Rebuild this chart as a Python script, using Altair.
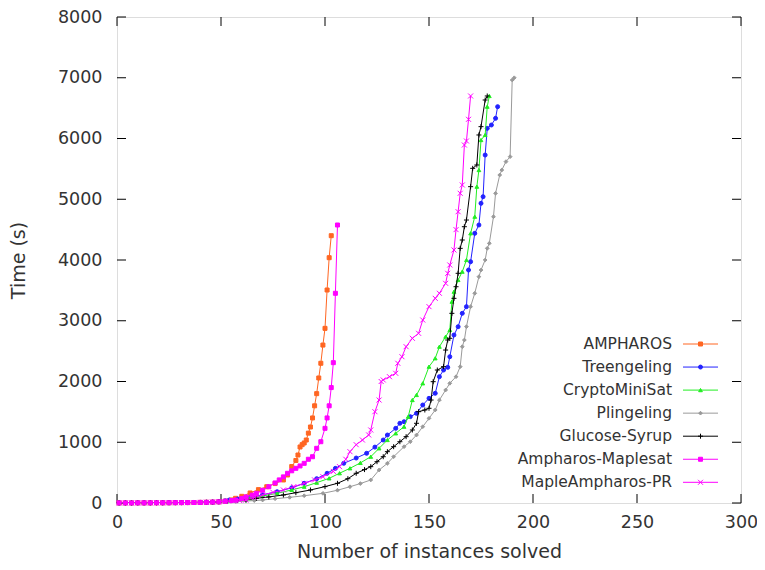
import altair as alt
import pandas as pd

# ---------------- data ----------------
series_names = ["AMPHAROS", "Treengeling", "CryptoMiniSat", "Plingeling",
                "Glucose-Syrup", "Ampharos-Maplesat", "MapleAmpharos-PR"]

# instances near the origin: all solved in (almost) no time
low_x = [1, 4, 7, 10, 13, 16, 19, 22, 25, 28, 31, 34, 37, 40, 43, 46, 49]
low_y = [1, 1, 1, 2, 2, 2, 3, 3, 4, 5, 6, 7, 8, 10, 12, 15, 19]

amph_x = low_x + [52, 55, 57, 60, 64, 68, 72, 76, 80, 82, 84, 86, 87, 88, 89, 90, 91, 92,
                  93, 94, 95, 96, 97, 98, 99, 100, 101, 102, 103]
amph_y = low_y + [30, 50, 77, 110, 165, 220, 268, 320, 379, 461, 600, 700, 790, 922, 960,
                  988, 1037, 1150, 1251, 1400, 1600, 1800, 2058, 2300, 2600, 2875, 3506,
                  4038, 4400]

tree_x = low_x + [52, 54, 58, 64, 70, 77, 84, 90, 96, 101, 105, 109, 115, 120, 124, 128,
                  130, 134, 136, 138, 141, 144, 147, 150, 153, 155, 157, 159, 160, 162,
                  164, 166, 168, 169, 170, 172, 174, 175, 176, 177, 178, 180, 182, 183]
tree_y = low_y + [35, 49, 65, 93, 135, 186, 250, 324, 400, 489, 570, 653, 740, 818, 920,
                  1037, 1119, 1229, 1312, 1338, 1421, 1476, 1613, 1723, 1806, 2079, 2189,
                  2233, 2408, 2765, 2902, 3122, 3232, 3835, 3972, 4439, 4576, 4933, 5042,
                  5728, 6167, 6222, 6332, 6524]

cms_x = low_x + [53, 57, 60, 64, 70, 77, 84, 90, 96, 102, 107, 112, 117, 122, 126, 130,
                 134, 138, 140, 142, 144, 147, 150, 153, 155, 158, 160, 161, 162, 164,
                 166, 168, 170, 172, 173, 174, 175, 177, 178, 179]
cms_y = low_y + [30, 45, 60, 77, 115, 159, 215, 268, 335, 406, 490, 571, 660, 762, 900,
                 1037, 1147, 1256, 1421, 1695, 1778, 1970, 2244, 2382, 2573, 2738, 2848,
                 3314, 3478, 3671, 3808, 4000, 4439, 4713, 5207, 5481, 5975, 6058, 6524,
                 6700]

pling_x = low_x + [53, 57, 62, 66, 70, 76, 83, 90, 99, 106, 112, 117, 122, 126, 130, 133,
                   138, 141, 144, 147, 150, 153, 155, 158, 160, 163, 165, 166, 167, 168,
                   170, 172, 174, 175, 177, 178, 179, 181, 182, 184, 185, 187, 189, 190,
                   191]
pling_y = low_y + [22, 26, 32, 40, 49, 70, 93, 120, 159, 210, 268, 320, 379, 543, 653, 762,
                   927, 1009, 1119, 1256, 1394, 1531, 1695, 1860, 1970, 2079, 2244, 2573,
                   2683, 2902, 3232, 3452, 3725, 3835, 4000, 4192, 4275, 4713, 5098, 5399,
                   5481, 5619, 5701, 6963, 7000]

gluc_x = low_x + [53, 58, 62, 67, 73, 80, 86, 93, 100, 106, 111, 115, 119, 122, 125, 128,
                  130, 133, 136, 139, 142, 144, 145, 148, 150, 151, 152, 154, 157, 158,
                  159, 160, 161, 162, 163, 164, 165, 166, 167, 168, 170, 171, 173, 174,
                  175, 177, 178]
gluc_y = low_y + [28, 40, 55, 77, 100, 132, 170, 214, 270, 324, 400, 489, 550, 598, 680,
                  762, 845, 927, 1009, 1092, 1202, 1312, 1503, 1531, 1559, 1695, 1997,
                  2189, 2244, 2518, 2683, 2711, 3122, 3369, 3560, 3781, 4192, 4329, 4548,
                  4658, 5207, 5509, 5564, 6058, 6195, 6634, 6700]

amap_x = low_x + [52, 55, 57, 60, 62, 65, 67, 70, 73, 76, 78, 80, 82, 84, 86, 88, 90, 92,
                  94, 96, 98, 100, 101, 102, 103, 104, 105, 106]
amap_y = low_y + [30, 40, 49, 75, 100, 130, 159, 210, 268, 330, 380, 430, 489, 530, 571,
                  610, 653, 720, 762, 900, 1009, 1229, 1400, 1600, 1900, 2310, 3452, 4576]

mapr_x = low_x + [52, 56, 59, 62, 66, 70, 75, 80, 85, 90, 95, 99, 104, 107, 110, 112, 115,
                  118, 121, 122, 124, 126, 127, 128, 131, 134, 135, 137, 139, 142, 145,
                  147, 150, 153, 155, 158, 159, 160, 162, 163, 164, 165, 166, 167, 168,
                  169, 170]
mapr_y = low_y + [25, 33, 40, 49, 90, 132, 175, 214, 270, 324, 380, 433, 520, 598, 720,
                  845, 960, 1037, 1120, 1202, 1503, 1695, 2000, 2025, 2079, 2135, 2300,
                  2408, 2573, 2711, 2793, 3012, 3232, 3369, 3452, 3616, 3781, 3918, 4165,
                  4500, 4795, 5098, 5235, 5893, 5959, 6316, 6700]

series_x = [amph_x, tree_x, cms_x, pling_x, gluc_x, amap_x, mapr_x]
series_y = [amph_y, tree_y, cms_y, pling_y, gluc_y, amap_y, mapr_y]

colors = ["#ff6622", "#2222ff", "#22ee22", "#9a9a9a", "#000000", "#ff00ff", "#ff00ff"]
shapes = ["square", "circle", "triangle-up", "diamond",
          "M-1,0L1,0M0,-1L0,1", "square", "M-1,-1L1,1M-1,1L1,-1"]
sizes = [16, 16, 14, 14, 25, 16, 25]

x_ticks = [0, 50, 100, 150, 200, 250, 300]
y_ticks = [0, 1000, 2000, 3000, 4000, 5000, 6000, 7000, 8000]

# ---------------- chart ----------------
FONT = "DejaVu Sans"
TXT = "#333333"
W, H = 624, 486

xscale = alt.Scale(domain=[0, 300], nice=False, zero=False)
yscale = alt.Scale(domain=[0, 8000], nice=False)

xaxis = alt.Axis(values=x_ticks, title="Number of instances solved", grid=False,
                 ticks=False, tickSize=0, domain=False, labelFontSize=17.5,
                 labelFont=FONT, labelColor=TXT, labelPadding=10, format="d",
                 titleFont=FONT, titleFontSize=19, titleFontWeight="normal",
                 titleColor=TXT, titlePadding=12, labelFlush=False)
yaxis = alt.Axis(values=y_ticks, title="Time (s)", grid=False, ticks=False,
                 tickSize=0, domain=False, labelFontSize=17.5, labelFont=FONT,
                 labelColor=TXT, labelPadding=15, format="d", titleFont=FONT,
                 titleFontSize=19, titleFontWeight="normal", titleColor=TXT,
                 titlePadding=29, labelFlush=False)

layers = []

# inside tick marks (bottom/top/left/right)
xt = pd.DataFrame({"x": x_ticks})
yt = pd.DataFrame({"y": y_ticks})
TL = 9
layers.append(alt.Chart(xt).mark_rule(color="#000", strokeWidth=1).encode(
    x=alt.X("x:Q", scale=xscale, axis=xaxis), y=alt.value(H), y2=alt.value(H - TL)))
layers.append(alt.Chart(xt).mark_rule(color="#000", strokeWidth=1).encode(
    x=alt.X("x:Q", scale=xscale), y=alt.value(0), y2=alt.value(TL)))
layers.append(alt.Chart(yt).mark_rule(color="#000", strokeWidth=1).encode(
    y=alt.Y("y:Q", scale=yscale, axis=yaxis), x=alt.value(0), x2=alt.value(TL)))
layers.append(alt.Chart(yt).mark_rule(color="#000", strokeWidth=1).encode(
    y=alt.Y("y:Q", scale=yscale), x=alt.value(W), x2=alt.value(W - TL)))

for i, name in enumerate(series_names):
    df = pd.DataFrame({"n": series_x[i], "t": series_y[i]})
    base = alt.Chart(df)
    layers.append(base.mark_line(color=colors[i], strokeWidth=1, clip=True).encode(
        x=alt.X("n:Q", scale=xscale), y=alt.Y("t:Q", scale=yscale),
        order="n:Q"))
    layers.append(base.mark_point(shape=shapes[i], size=sizes[i], filled=True,
                                  fill=colors[i], stroke=colors[i], strokeWidth=1,
                                  opacity=1).encode(
        x=alt.X("n:Q", scale=xscale), y=alt.Y("t:Q", scale=yscale)))

# key (inside plot, bottom right, labels to the left of samples)
for i, name in enumerate(series_names):
    ky = 327 + 23.05 * i
    kd = pd.DataFrame({"k": [name]})
    kb = alt.Chart(kd)
    layers.append(kb.mark_text(align="right", baseline="middle", font=FONT,
                               fontSize=15.5, color=TXT).encode(
        x=alt.value(555), y=alt.value(ky), text="k:N"))
    layers.append(kb.mark_rule(color=colors[i], strokeWidth=1).encode(
        x=alt.value(566), x2=alt.value(601), y=alt.value(ky)))
    layers.append(kb.mark_point(shape=shapes[i], size=sizes[i], filled=True,
                                fill=colors[i], stroke=colors[i], strokeWidth=1,
                                opacity=1).encode(
        x=alt.value(583.5), y=alt.value(ky)))

chart = alt.layer(*layers).properties(
    width=W, height=H,
    autosize=alt.AutoSizeParams(type="none"),
    padding={"left": 109, "top": 9, "right": 16, "bottom": 59},
).configure_view(stroke="#000", strokeWidth=1).configure(background="white")

chart.save("out.html", embed_options={"renderer": "svg", "actions": False})
